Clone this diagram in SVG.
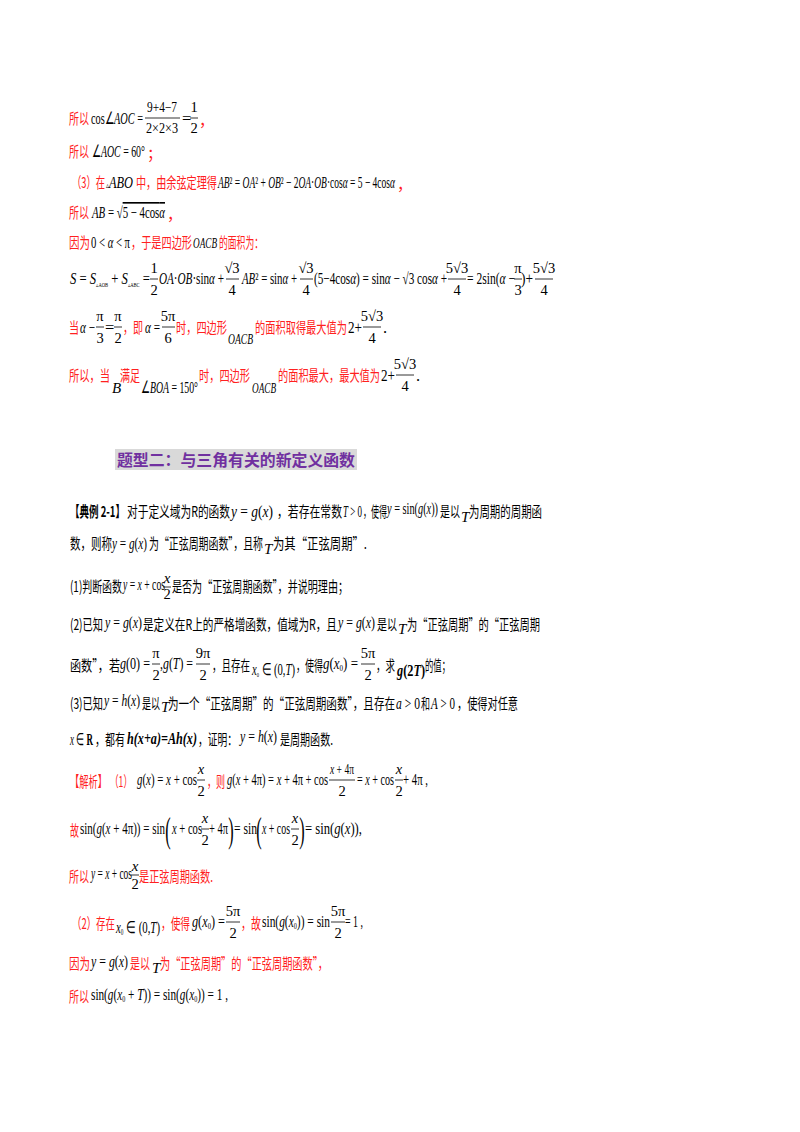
<svg xmlns="http://www.w3.org/2000/svg" width="800" height="1132" viewBox="0 0 800 1132">
<style>
text{font-family:"Noto Sans CJK SC","Liberation Serif",serif;font-size:15px;fill:#000}
.r{fill:#ff2020}
.m{font-family:"Liberation Serif",serif;font-style:italic}
.n{font-family:"Liberation Serif",serif;font-size:16.5px}
.f{text-anchor:middle;font-family:"Liberation Serif",serif;font-size:14.5px}
.b{font-weight:bold}
.p{font-family:"Liberation Serif",serif;font-size:36px;text-anchor:middle}
line{stroke:#000;stroke-width:0.8}
</style>
<rect width="800" height="1132" fill="#fff"/>
<g id="sol2-end">
<text x="69" y="124" class="r" textLength="20" lengthAdjust="spacingAndGlyphs">所以</text>
<text x="91" y="124" class="n" textLength="52" lengthAdjust="spacingAndGlyphs">cos∠<tspan class="m">AOC</tspan> =</text>
<text x="162" y="112" class="f" textLength="30" lengthAdjust="spacingAndGlyphs">9+4−7</text><line x1="145" y1="118" x2="180" y2="118"/><text x="162" y="133" class="f" textLength="32" lengthAdjust="spacingAndGlyphs">2×2×3</text>
<text x="182" y="124" class="n">=</text>
<text x="194" y="112" class="f">1</text><line x1="190" y1="118" x2="198" y2="118"/><text x="194" y="133" class="f">2</text>
<text x="199" y="126" class="r">，</text>
<text x="69" y="157" class="r" textLength="20" lengthAdjust="spacingAndGlyphs">所以</text><text x="92" y="157" class="n" textLength="53" lengthAdjust="spacingAndGlyphs">∠<tspan class="m">AOC</tspan> = 60°</text><text x="147" y="159" class="r">；</text>
</g>
<g id="sol3">
<text x="72" y="188" class="r" textLength="33" lengthAdjust="spacingAndGlyphs">（3）在</text><text x="106" y="188" class="n" font-size="15" textLength="27" lengthAdjust="spacingAndGlyphs"><tspan font-size="8">▵</tspan><tspan class="m">ABO</tspan></text><text x="136" y="188" class="r" textLength="81" lengthAdjust="spacingAndGlyphs">中，由余弦定理得</text>
<text x="218" y="188" class="n" font-size="15" textLength="177" lengthAdjust="spacingAndGlyphs"><tspan class="m">AB</tspan>² = <tspan class="m">OA</tspan>² + <tspan class="m">OB</tspan>² − 2<tspan class="m">OA</tspan>·<tspan class="m">OB</tspan>·cos<tspan class="m">α</tspan> = 5 − 4cos<tspan class="m">α</tspan></text><text x="397" y="190" class="r">，</text>
<text x="69" y="218" class="r" textLength="20" lengthAdjust="spacingAndGlyphs">所以</text><text x="92" y="218" class="n" textLength="73" lengthAdjust="spacingAndGlyphs"><tspan class="m">AB</tspan> = √<tspan text-decoration="overline">5 − 4cos<tspan class="m">α</tspan></tspan></text><text x="167" y="220" class="r">，</text>
<text x="69" y="248" class="r" textLength="21" lengthAdjust="spacingAndGlyphs">因为</text><text x="91" y="248" class="n" textLength="39" lengthAdjust="spacingAndGlyphs">0 &lt; <tspan class="m">α</tspan> &lt; π</text><text x="131" y="248" class="r" textLength="61" lengthAdjust="spacingAndGlyphs">，于是四边形</text><text x="193" y="248" class="m" font-size="12" textLength="24" lengthAdjust="spacingAndGlyphs">OACB</text><text x="219" y="248" class="r" textLength="44" lengthAdjust="spacingAndGlyphs">的面积为：</text>
<text x="70" y="284" class="n" textLength="80" lengthAdjust="spacingAndGlyphs"><tspan class="m">S</tspan> = <tspan class="m">S</tspan><tspan font-size="6" dy="3">▵AOB</tspan><tspan dy="-3"> + </tspan><tspan class="m">S</tspan><tspan font-size="6" dy="3">▵ABC</tspan><tspan dy="-3"> =</tspan></text>
<text x="154" y="273" class="f">1</text><line x1="150" y1="279" x2="158" y2="279"/><text x="154" y="295" class="f">2</text>
<text x="159" y="284" class="n" textLength="65" lengthAdjust="spacingAndGlyphs"><tspan class="m">OA</tspan>·<tspan class="m">OB</tspan>·sin<tspan class="m">α</tspan> +</text>
<text x="232" y="273" class="f">√3</text><line x1="226" y1="279" x2="239" y2="279"/><text x="232" y="295" class="f">4</text>
<text x="242" y="284" class="n" textLength="55" lengthAdjust="spacingAndGlyphs"><tspan class="m">AB</tspan>² = sin<tspan class="m">α</tspan> +</text>
<text x="306" y="273" class="f">√3</text><line x1="300" y1="279" x2="313" y2="279"/><text x="306" y="295" class="f">4</text>
<text x="314" y="284" class="n" textLength="133" lengthAdjust="spacingAndGlyphs">(5−4cos<tspan class="m">α</tspan>) = sin<tspan class="m">α</tspan> − √3 cos<tspan class="m">α</tspan> +</text>
<text x="457" y="273" class="f">5√3</text><line x1="448" y1="279" x2="466" y2="279"/><text x="457" y="295" class="f">4</text>
<text x="467" y="284" class="n" textLength="48" lengthAdjust="spacingAndGlyphs">= 2sin(<tspan class="m">α</tspan> −</text>
<text x="518" y="273" class="f">π</text><line x1="514" y1="279" x2="522" y2="279"/><text x="518" y="295" class="f">3</text>
<text x="521" y="284" class="n" textLength="12" lengthAdjust="spacingAndGlyphs">)+</text>
<text x="544" y="273" class="f">5√3</text><line x1="535" y1="279" x2="553" y2="279"/><text x="544" y="295" class="f">4</text>
</g>
<g id="sol3-max">
<text x="69" y="333" class="r" textLength="10" lengthAdjust="spacingAndGlyphs">当</text><text x="80" y="333" class="n" textLength="15" lengthAdjust="spacingAndGlyphs"><tspan class="m">α</tspan> −</text>
<text x="100" y="321" class="f">π</text><line x1="96" y1="327" x2="104" y2="327"/><text x="100" y="343" class="f">3</text>
<text x="105" y="333" class="n">=</text>
<text x="118" y="321" class="f">π</text><line x1="114" y1="327" x2="122" y2="327"/><text x="118" y="343" class="f">2</text>
<text x="123" y="333" class="r" textLength="20" lengthAdjust="spacingAndGlyphs">，即</text><text x="145" y="333" class="n" textLength="15" lengthAdjust="spacingAndGlyphs"><tspan class="m">α</tspan> =</text>
<text x="168" y="321" class="f">5π</text><line x1="162" y1="327" x2="175" y2="327"/><text x="168" y="343" class="f">6</text>
<text x="176" y="333" class="r" textLength="51" lengthAdjust="spacingAndGlyphs">时，四边形</text><text x="228" y="344" class="m" font-size="12" textLength="25" lengthAdjust="spacingAndGlyphs">OACB</text>
<text x="255" y="333" class="r" textLength="92" lengthAdjust="spacingAndGlyphs">的面积取得最大值为</text><text x="348" y="333" class="n" textLength="14" lengthAdjust="spacingAndGlyphs">2+</text>
<text x="372" y="321" class="f">5√3</text><line x1="363" y1="327" x2="381" y2="327"/><text x="372" y="343" class="f">4</text>
<text x="383" y="333" class="n">.</text>
<text x="69" y="381" class="r" textLength="41" lengthAdjust="spacingAndGlyphs">所以，当</text><text x="112" y="393" class="m" font-size="12">B</text><text x="120" y="381" class="r" textLength="20" lengthAdjust="spacingAndGlyphs">满足</text>
<text x="141" y="393" class="n" font-size="15" textLength="57" lengthAdjust="spacingAndGlyphs">∠<tspan class="m">BOA</tspan> = 150°</text><text x="199" y="381" class="r" textLength="51" lengthAdjust="spacingAndGlyphs">时，四边形</text><text x="252" y="393" class="m" font-size="12" textLength="24" lengthAdjust="spacingAndGlyphs">OACB</text>
<text x="278" y="381" class="r" textLength="102" lengthAdjust="spacingAndGlyphs">的面积最大，最大值为</text><text x="381" y="381" class="n" textLength="14" lengthAdjust="spacingAndGlyphs">2+</text>
<text x="405" y="369" class="f">5√3</text><line x1="396" y1="375" x2="414" y2="375"/><text x="405" y="391" class="f">4</text>
<text x="416" y="381" class="n">.</text>
</g>
<g id="heading">
<rect x="115" y="449" width="242" height="21" fill="#d9d9d9"/>
<text x="117" y="466" class="b" style="fill:#7030a0;font-size:15.5px" textLength="238" lengthAdjust="spacingAndGlyphs">题型二：与三角有关的新定义函数</text>
</g>
<g id="example">
<text x="70" y="517" class="b" textLength="55" lengthAdjust="spacingAndGlyphs">【典例 2-1】</text><text x="127" y="517" textLength="103" lengthAdjust="spacingAndGlyphs">对于定义域为R的函数</text>
<text x="231" y="517" class="n" textLength="42" lengthAdjust="spacingAndGlyphs"><tspan class="m">y</tspan> = <tspan class="m">g</tspan>(<tspan class="m">x</tspan>)</text><text x="277" y="517" textLength="65" lengthAdjust="spacingAndGlyphs">，若存在常数</text><text x="343" y="517" class="n" textLength="19" lengthAdjust="spacingAndGlyphs"><tspan class="m">T</tspan> &gt; 0</text><text x="363" y="517" textLength="24" lengthAdjust="spacingAndGlyphs">，使得</text>
<text x="387" y="514" class="n" font-size="12" textLength="51" lengthAdjust="spacingAndGlyphs"><tspan class="m">y</tspan> = sin(<tspan class="m">g</tspan>(<tspan class="m">x</tspan>))</text><text x="440" y="517" textLength="20" lengthAdjust="spacingAndGlyphs">是以</text><text x="461" y="522" class="m" font-size="11">T</text><text x="469" y="517" textLength="73" lengthAdjust="spacingAndGlyphs">为周期的周期函</text>
<text x="70" y="549" textLength="42" lengthAdjust="spacingAndGlyphs">数，则称</text><text x="112" y="549" class="n" textLength="35" lengthAdjust="spacingAndGlyphs"><tspan class="m">y</tspan> = <tspan class="m">g</tspan>(<tspan class="m">x</tspan>)</text><text x="149" y="549" textLength="114" lengthAdjust="spacingAndGlyphs">为“正弦周期函数”，且称</text><text x="264" y="554" class="m" font-size="11">T</text><text x="273" y="549" textLength="94" lengthAdjust="spacingAndGlyphs">为其“正弦周期”.</text>
<text x="70" y="592" textLength="52" lengthAdjust="spacingAndGlyphs">(1)判断函数</text><text x="123" y="590" class="n" font-size="11" textLength="42" lengthAdjust="spacingAndGlyphs"><tspan class="m">y</tspan> = <tspan class="m">x</tspan> + cos</text>
<text x="167" y="583" class="m" font-size="11" text-anchor="middle">x</text><line x1="163" y1="587" x2="171" y2="587"/><text x="167" y="599" class="f" font-size="11">2</text>
<text x="172" y="592" textLength="176" lengthAdjust="spacingAndGlyphs">是否为“正弦周期函数”，并说明理由；</text>
<text x="70" y="630" textLength="33" lengthAdjust="spacingAndGlyphs">(2)已知</text><text x="105" y="628" class="n" textLength="37" lengthAdjust="spacingAndGlyphs"><tspan class="m">y</tspan> = <tspan class="m">g</tspan>(<tspan class="m">x</tspan>)</text><text x="143" y="630" textLength="194" lengthAdjust="spacingAndGlyphs">是定义在R上的严格增函数，值域为R，且</text><text x="338" y="628" class="n" textLength="37" lengthAdjust="spacingAndGlyphs"><tspan class="m">y</tspan> = <tspan class="m">g</tspan>(<tspan class="m">x</tspan>)</text><text x="377" y="630" textLength="20" lengthAdjust="spacingAndGlyphs">是以</text><text x="398" y="634" class="m" font-size="11">T</text><text x="407" y="630" textLength="133" lengthAdjust="spacingAndGlyphs">为“正弦周期”的“正弦周期</text>
<text x="70" y="671" textLength="50" lengthAdjust="spacingAndGlyphs">函数”，若</text><text x="120" y="669" class="n" textLength="30" lengthAdjust="spacingAndGlyphs"><tspan class="m">g</tspan>(0) =</text>
<text x="156" y="658" class="f">π</text><line x1="152" y1="664" x2="160" y2="664"/><text x="156" y="680" class="f">2</text>
<text x="160" y="669" class="n" textLength="33" lengthAdjust="spacingAndGlyphs">,<tspan class="m">g</tspan>(<tspan class="m">T</tspan>) =</text>
<text x="203" y="658" class="f">9π</text><line x1="196" y1="664" x2="210" y2="664"/><text x="203" y="680" class="f">2</text>
<text x="212" y="671" textLength="38" lengthAdjust="spacingAndGlyphs">，且存在</text><text x="252" y="675" class="n" font-size="13" textLength="43" lengthAdjust="spacingAndGlyphs"><tspan class="m">x</tspan><tspan font-size="7" dy="2">0</tspan><tspan dy="-2"> ∈ (0,</tspan><tspan class="m">T</tspan>)</text>
<text x="296" y="671" textLength="27" lengthAdjust="spacingAndGlyphs">，使得</text><text x="323" y="669" class="n" textLength="35" lengthAdjust="spacingAndGlyphs"><tspan class="m">g</tspan>(<tspan class="m">x</tspan><tspan font-size="9" dy="2">0</tspan><tspan dy="-2">) =</tspan></text>
<text x="368" y="658" class="f">5π</text><line x1="361" y1="664" x2="375" y2="664"/><text x="368" y="680" class="f">2</text>
<text x="376" y="671" textLength="19" lengthAdjust="spacingAndGlyphs">，求</text><text x="397" y="676" class="n b" font-size="15" textLength="28" lengthAdjust="spacingAndGlyphs"><tspan class="m">g</tspan>(2<tspan class="m">T</tspan>)</text><text x="425" y="671" textLength="25" lengthAdjust="spacingAndGlyphs">的值；</text>
<text x="70" y="709" textLength="33" lengthAdjust="spacingAndGlyphs">(3)已知</text><text x="104" y="706" class="n" font-size="15" textLength="36" lengthAdjust="spacingAndGlyphs"><tspan class="m">y</tspan> = <tspan class="m">h</tspan>(<tspan class="m">x</tspan>)</text><text x="142" y="709" textLength="18" lengthAdjust="spacingAndGlyphs">是以</text><text x="161" y="712" class="m" font-size="10">T</text><text x="168" y="709" textLength="227" lengthAdjust="spacingAndGlyphs">为一个“正弦周期”的“正弦周期函数”，且存在</text><text x="396" y="709" class="n" textLength="24" lengthAdjust="spacingAndGlyphs"><tspan class="m">a</tspan> &gt; 0</text><text x="421" y="709" textLength="9" lengthAdjust="spacingAndGlyphs">和</text><text x="431" y="709" class="n" textLength="24" lengthAdjust="spacingAndGlyphs"><tspan class="m">A</tspan> &gt; 0</text><text x="457" y="709" textLength="61" lengthAdjust="spacingAndGlyphs">，使得对任意</text>
<text x="70" y="745" class="n" textLength="23" lengthAdjust="spacingAndGlyphs"><tspan class="m">x</tspan> ∈ <tspan font-weight="bold">R</tspan></text><text x="95" y="745" textLength="30" lengthAdjust="spacingAndGlyphs">，都有</text><text x="127" y="744" class="n b" font-style="italic" textLength="70" lengthAdjust="spacingAndGlyphs">h(x+a)=Ah(x)</text><text x="198" y="745" textLength="39" lengthAdjust="spacingAndGlyphs">，证明：</text><text x="240" y="742" class="n" font-size="15" textLength="37" lengthAdjust="spacingAndGlyphs"><tspan class="m">y</tspan> = <tspan class="m">h</tspan>(<tspan class="m">x</tspan>)</text><text x="280" y="745" textLength="53" lengthAdjust="spacingAndGlyphs">是周期函数.</text>
</g>
<g id="analysis">
<text x="70" y="787" class="r" textLength="37" lengthAdjust="spacingAndGlyphs">【解析】</text><text x="110" y="787" class="r" textLength="22" lengthAdjust="spacingAndGlyphs">（1）</text><text x="137" y="785" class="n" textLength="60" lengthAdjust="spacingAndGlyphs"><tspan class="m">g</tspan>(<tspan class="m">x</tspan>) = <tspan class="m">x</tspan> + cos</text>
<text x="201" y="774" class="f m">x</text><line x1="197" y1="780" x2="205" y2="780"/><text x="201" y="796" class="f">2</text>
<text x="207" y="787" class="r" textLength="18" lengthAdjust="spacingAndGlyphs">，则</text><text x="227" y="785" class="n" textLength="101" lengthAdjust="spacingAndGlyphs"><tspan class="m">g</tspan>(<tspan class="m">x</tspan> + 4π) = <tspan class="m">x</tspan> + 4π + cos</text>
<text x="342" y="774" class="f" textLength="24" lengthAdjust="spacingAndGlyphs"><tspan font-style="italic">x</tspan> + 4π</text><line x1="329" y1="780" x2="355" y2="780"/><text x="342" y="796" class="f">2</text>
<text x="357" y="785" class="n" textLength="37" lengthAdjust="spacingAndGlyphs">= <tspan class="m">x</tspan> + cos</text>
<text x="399" y="774" class="f m">x</text><line x1="395" y1="780" x2="403" y2="780"/><text x="399" y="796" class="f">2</text>
<text x="403" y="785" class="n" textLength="25" lengthAdjust="spacingAndGlyphs">+ 4π ,</text>
<text x="70" y="836" class="r" textLength="9" lengthAdjust="spacingAndGlyphs">故</text><text x="80" y="834" class="n" textLength="85" lengthAdjust="spacingAndGlyphs">sin(<tspan class="m">g</tspan>(<tspan class="m">x</tspan> + 4π)) = sin</text>
<text x="168" y="842" class="p" transform="translate(168,838) scale(0.45,1) translate(-168,-838)">(</text>
<text x="172" y="834" class="n" textLength="30" lengthAdjust="spacingAndGlyphs"><tspan class="m">x</tspan> + cos</text>
<text x="205" y="823" class="f m">x</text><line x1="201" y1="829" x2="209" y2="829"/><text x="205" y="845" class="f">2</text>
<text x="209" y="834" class="n" textLength="19" lengthAdjust="spacingAndGlyphs">+ 4π</text>
<text x="231" y="842" class="p" transform="translate(231,838) scale(0.45,1) translate(-231,-838)">)</text>
<text x="234" y="834" class="n" textLength="23" lengthAdjust="spacingAndGlyphs">= sin</text>
<text x="259" y="842" class="p" transform="translate(259,838) scale(0.45,1) translate(-259,-838)">(</text>
<text x="262" y="834" class="n" textLength="28" lengthAdjust="spacingAndGlyphs"><tspan class="m">x</tspan> + cos</text>
<text x="295" y="823" class="f m">x</text><line x1="291" y1="829" x2="299" y2="829"/><text x="295" y="845" class="f">2</text>
<text x="302" y="842" class="p" transform="translate(302,838) scale(0.45,1) translate(-302,-838)">)</text>
<text x="305" y="834" class="n" textLength="57" lengthAdjust="spacingAndGlyphs">= sin(<tspan class="m">g</tspan>(<tspan class="m">x</tspan>)),</text>
<text x="69" y="882" class="r" textLength="20" lengthAdjust="spacingAndGlyphs">所以</text><text x="91" y="879" class="n" font-size="12" textLength="41" lengthAdjust="spacingAndGlyphs"><tspan class="m">y</tspan> = <tspan class="m">x</tspan> + cos</text>
<text x="135" y="871" class="m" text-anchor="middle" font-size="11">x</text><line x1="131" y1="875" x2="139" y2="875"/><text x="135" y="889" class="f" font-size="12">2</text>
<text x="139" y="882" class="r" textLength="74" lengthAdjust="spacingAndGlyphs">是正弦周期函数.</text>
<text x="72" y="929" class="r" textLength="43" lengthAdjust="spacingAndGlyphs">（2）存在</text><text x="116" y="933" class="n" font-size="14" textLength="44" lengthAdjust="spacingAndGlyphs"><tspan class="m">x</tspan><tspan font-size="8" dy="2">0</tspan><tspan dy="-2"> ∈ (0,</tspan><tspan class="m">T</tspan>)</text>
<text x="161" y="929" class="r" textLength="29" lengthAdjust="spacingAndGlyphs">，使得</text><text x="192" y="927" class="n" textLength="33" lengthAdjust="spacingAndGlyphs"><tspan class="m">g</tspan>(<tspan class="m">x</tspan><tspan font-size="9" dy="2">0</tspan><tspan dy="-2">) =</tspan></text>
<text x="233" y="916" class="f">5π</text><line x1="226" y1="922" x2="240" y2="922"/><text x="233" y="938" class="f">2</text>
<text x="241" y="929" class="r" textLength="20" lengthAdjust="spacingAndGlyphs">，故</text><text x="262" y="927" class="n" textLength="68" lengthAdjust="spacingAndGlyphs">sin(<tspan class="m">g</tspan>(<tspan class="m">x</tspan><tspan font-size="9" dy="2">0</tspan><tspan dy="-2">)) = sin</tspan></text>
<text x="338" y="916" class="f">5π</text><line x1="331" y1="922" x2="345" y2="922"/><text x="338" y="938" class="f">2</text>
<text x="345" y="927" class="n" textLength="18" lengthAdjust="spacingAndGlyphs">= 1 ,</text>
<text x="69" y="969" class="r" textLength="21" lengthAdjust="spacingAndGlyphs">因为</text><text x="91" y="967" class="n" textLength="37" lengthAdjust="spacingAndGlyphs"><tspan class="m">y</tspan> = <tspan class="m">g</tspan>(<tspan class="m">x</tspan>)</text><text x="130" y="969" class="r" textLength="20" lengthAdjust="spacingAndGlyphs">是以</text><text x="152" y="973" class="m" font-size="10">T</text><text x="160" y="969" class="r" textLength="168" lengthAdjust="spacingAndGlyphs">为“正弦周期”的“正弦周期函数”，</text>
<text x="69" y="1002" class="r" textLength="20" lengthAdjust="spacingAndGlyphs">所以</text><text x="91" y="1000" class="n" textLength="137" lengthAdjust="spacingAndGlyphs">sin(<tspan class="m">g</tspan>(<tspan class="m">x</tspan><tspan font-size="9" dy="2">0</tspan><tspan dy="-2"> + </tspan><tspan class="m">T</tspan>)) = sin(<tspan class="m">g</tspan>(<tspan class="m">x</tspan><tspan font-size="9" dy="2">0</tspan><tspan dy="-2">)) = 1 ,</tspan></text>
</g>
</svg>
